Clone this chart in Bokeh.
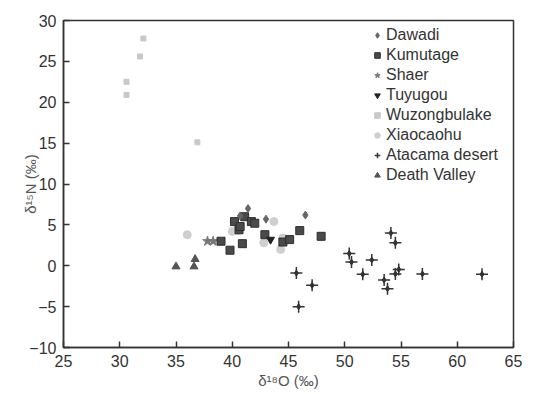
from bokeh.plotting import figure
from bokeh.models import Legend, LegendItem, FixedTicker, Range1d
from bokeh.embed import file_html
from bokeh.resources import INLINE

# ---- data ----
dawadi_x = [40.7, 41.4, 43.0, 46.5]
dawadi_y = [6.1, 7.0, 5.7, 6.2]

kumutage_x = [39.0, 39.8, 40.9, 40.2, 40.6, 40.7, 41.1, 41.7, 42.0, 42.9, 44.5, 45.1, 46.0, 47.9]
kumutage_y = [3.0, 1.9, 2.7, 5.4, 4.4, 4.8, 6.0, 5.4, 5.2, 3.8, 2.9, 3.2, 4.3, 3.6]

shaer_x = [37.8, 38.3]
shaer_y = [3.0, 3.0]

tuyugou_x = [43.4]
tuyugou_y = [3.2]

wuzong_x = [32.1, 31.8, 30.6, 30.6, 36.9]
wuzong_y = [27.8, 25.6, 22.5, 20.9, 15.1]

xiao_x = [36.0, 40.0, 40.5, 43.7, 42.8, 44.3, 44.5]
xiao_y = [3.8, 4.2, 4.3, 5.4, 2.8, 2.0, 3.4]

atacama_x = [45.7, 47.1, 45.9, 50.4, 50.6, 52.4, 51.6, 54.1, 54.5, 53.5, 53.8, 54.5, 54.8, 56.9, 62.2]
atacama_y = [-0.9, -2.4, -5.0, 1.5, 0.45, 0.7, -1.05, 4.0, 2.8, -1.75, -2.8, -1.0, -0.45, -1.0, -1.05]

death_x = [35.0, 36.7, 36.6]
death_y = [-0.1, 0.8, -0.1]

x_ticks = [25, 30, 35, 40, 45, 50, 55, 60, 65]
y_ticks = [-10, -5, 0, 5, 10, 15, 20, 25, 30]
y_tick_labels = {-10: "\u221210", -5: "\u22125", 0: "0", 5: "5", 10: "10",
                 15: "15", 20: "20", 25: "25", 30: "30"}

FONT = "Liberation Sans"
TXT = "#333333"

p = figure(width=549, height=394, output_backend="svg", toolbar_location=None,
           x_range=Range1d(25, 65), y_range=Range1d(-10, 30),
           min_border_left=63, min_border_right=36, min_border_top=20, min_border_bottom=47)
p.grid.visible = False
p.outline_line_color = "#333333"
p.outline_line_width = 1.5
p.background_fill_color = "white"
p.border_fill_color = "white"

for ax in (p.xaxis, p.yaxis):
    ax.major_tick_in = 6
    ax.major_tick_out = 0
    ax.minor_tick_in = 0
    ax.minor_tick_out = 0
    ax.axis_line_color = "#333333"
    ax.axis_line_width = 1.5
    ax.major_tick_line_color = "#333333"
    ax.major_tick_line_width = 1.5
    ax.major_label_text_font = FONT
    ax.major_label_text_font_size = "16px"
    ax.major_label_text_color = TXT
    ax.axis_label_text_font = FONT
    ax.axis_label_text_font_size = "15px"
    ax.axis_label_text_font_style = "normal"
    ax.axis_label_text_color = "#555555"

p.xaxis.ticker = FixedTicker(ticks=x_ticks)
p.yaxis.ticker = FixedTicker(ticks=y_ticks)
p.yaxis.major_label_overrides = y_tick_labels
p.xaxis.major_label_standoff = 7
p.yaxis.major_label_standoff = 7
p.xaxis.axis_label = "\u03b4\u00b9\u2078O (\u2030)"
p.yaxis.axis_label = "\u03b4\u00b9\u2075N (\u2030)"
p.xaxis.axis_label_standoff = 2
p.yaxis.axis_label_standoff = -13

# light markers first so that darker ones sit on top
r_wuz = p.scatter(wuzong_x, wuzong_y, marker="square", size=5,
                  fill_color="#c8c8c8", line_color="#c8c8c8")
r_xiao = p.scatter(xiao_x, xiao_y, marker="circle", size=8,
                   fill_color="#cfcfcf", line_color="#cfcfcf")
r_death = p.scatter(death_x, death_y, marker="triangle", size=8,
                    fill_color="#555555", line_color="#555555")
r_shaer = p.scatter(shaer_x, shaer_y, marker="star", size=10,
                    fill_color="#777777", line_color="#777777")
r_kum = p.scatter(kumutage_x, kumutage_y, marker="square", size=8,
                  fill_color="#4a4a4a", line_color="#2e2e2e", line_width=1)
r_daw = p.scatter(dawadi_x, dawadi_y, marker="diamond", size=8,
                  fill_color="#666666", line_color="#666666")
r_tuy = p.scatter(tuyugou_x, tuyugou_y, marker="inverted_triangle", size=8,
                  fill_color="#222222", line_color="#222222")
r_ata = p.scatter(atacama_x, atacama_y, marker="cross", size=12,
                  line_color="#333333", line_width=1.5)
r_ata_c = p.scatter(atacama_x, atacama_y, marker="diamond", size=6,
                    fill_color="#333333", line_color="#333333")

legend = Legend(items=[
    LegendItem(label="Dawadi", renderers=[r_daw]),
    LegendItem(label="Kumutage", renderers=[r_kum]),
    LegendItem(label="Shaer", renderers=[r_shaer]),
    LegendItem(label="Tuyugou", renderers=[r_tuy]),
    LegendItem(label="Wuzongbulake", renderers=[r_wuz]),
    LegendItem(label="Xiaocaohu", renderers=[r_xiao]),
    LegendItem(label="Atacama desert", renderers=[r_ata]),
    LegendItem(label="Death Valley", renderers=[r_death]),
], location=(307, 162))
legend.border_line_color = None
legend.background_fill_alpha = 0
legend.padding = 0
legend.margin = 0
legend.spacing = 0
legend.label_height = 20
legend.glyph_height = 16
legend.glyph_width = 14
legend.label_standoff = 2
legend.label_text_font = FONT
legend.label_text_font_size = "16px"
legend.label_text_color = TXT
p.add_layout(legend, "center")

open("out.html", "w").write(file_html(p, INLINE))
